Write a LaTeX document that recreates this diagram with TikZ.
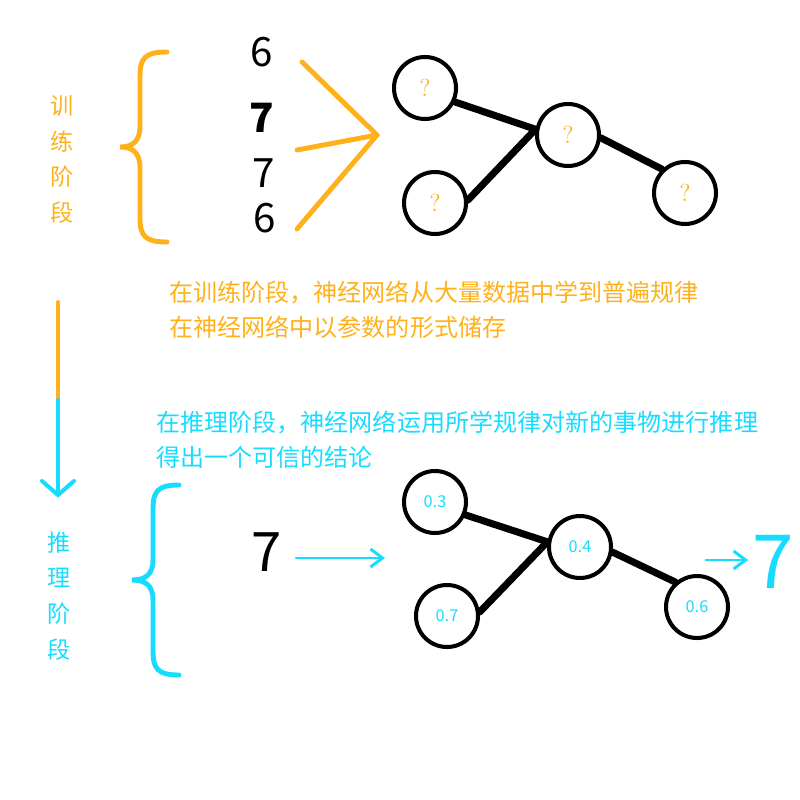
\documentclass[tikz,border=0pt]{standalone}
\usepackage{fontspec}
\newfontfamily\cjk{Noto Sans CJK SC}
\usetikzlibrary{arrows.meta,calc}
\definecolor{trainOrange}{HTML}{FFB11B}
\definecolor{inferCyan}{HTML}{18DCFF}

\begin{document}
\begin{tikzpicture}[
  x=0.02cm, y=-0.02cm,
  line cap=round,
  every node/.style={inner sep=0pt},
  neuron/.style={circle, draw=black, line width=2.3pt, minimum size=1.24cm},
  link/.style={black, line width=4pt},
  brace/.style={line width=2.8pt},
  feed/.style={trainOrange, line width=2.8pt},
  push/.style={inferCyan, line width=1.7pt, -{Straight Barb[length=0.24cm,width=0.36cm]}},
  note/.style={font=\cjk\fontsize{13.7}{19.8}\selectfont, anchor=west, align=left},
  stage/.style={font=\cjk\fontsize{13.2}{20.4}\selectfont, align=center},
  digit/.style={font=\cjk\fontsize{23}{23}\selectfont, black}
]
  \useasboundingbox (0,0) rectangle (800,800);

  % Training stage label and brace
  \node[stage, trainOrange] (trainlabel) at (62,159.5) {训\\练\\阶\\段};
  \draw[brace, trainOrange] (167,52) .. controls (145,52) and (140,58) .. (140,76)
    -- (140,126) .. controls (140,141) and (133,147) .. (120,147)
    .. controls (133,147) and (140,153) .. (140,168) -- (140,218)
    .. controls (140,236) and (145,242) .. (167,242);

  % Input digits
  \node[digit] (dig1) at (262,52) {6};
  \node[digit, font=\cjk\bfseries\fontsize{23}{23}\selectfont] (dig2) at (262,118) {7};
  \node[digit] (dig3) at (264,173) {7};
  \node[digit] (dig4) at (265,218) {6};

  % Digits fed into the network
  \coordinate (in1) at (302,62);
  \coordinate (in2) at (297,150);
  \coordinate (in3) at (297,229);
  \coordinate (merge) at (377,135);
  \draw[feed] (in1) -- (merge);
  \draw[feed] (in2) -- (merge);
  \draw[feed] (in3) -- (merge);

  % Untrained network
  \node[neuron] (t1) at (425,88) {};
  \node[neuron] (t2) at (568,135) {};
  \node[neuron] (t3) at (435,203) {};
  \node[neuron] (t4) at (685,193) {};
  \foreach \n in {t1,t2,t3,t4}
    \node[trainOrange, font=\fontsize{14}{14}\selectfont] at (\n) {?};
  \draw[link] (t1.-25) -- (t2.170);
  \draw[link] (t3.5) -- (t2.170);
  \draw[link] (t2.-5) -- (t4.134);

  % Notes
  \node[note, trainOrange] (trainnote) at (169,309.5)
    {在训练阶段，神经网络从大量数据中学到普遍规律\\在神经网络中以参数的形式储存};
  \node[note, inferCyan] (infernote) at (156,439.5)
    {在推理阶段，神经网络运用所学规律对新的事物进行推理\\得出一个可信的结论};

  % Stage arrow (orange fading into cyan)
  \draw[trainOrange, line width=2.3pt] (58,302) -- (58,402);
  \draw[inferCyan, line width=2.3pt] (58,400) -- (58,494);
  \draw[inferCyan, line width=2.3pt] (42,481) -- (58,495) -- (74,481);

  % Inference stage label and brace
  \node[stage, inferCyan] (inferlabel) at (59,596) {推\\理\\阶\\段};
  \draw[brace, inferCyan] (179,485) .. controls (158,485) and (153,491) .. (153,509)
    -- (153,560) .. controls (153,574) and (146,580) .. (132,580)
    .. controls (146,580) and (153,586) .. (153,600) -- (153,651)
    .. controls (153,669) and (158,675) .. (179,675);

  % New input
  \node[digit, font=\cjk\fontsize{31}{31}\selectfont] (query) at (267,552) {7};
  \coordinate (qa) at (296,558);
  \coordinate (qb) at (385,558);
  \draw[push] (qa) -- (qb);

  % Trained network
  \node[neuron] (b1) at (435,502) {};
  \node[neuron] (b2) at (580,547) {};
  \node[neuron] (b3) at (447,616) {};
  \node[neuron] (b4) at (697,607) {};
  \foreach \n/\w in {b1/0.3,b2/0.4,b3/0.7,b4/0.6}
    \node[inferCyan, font=\cjk\fontsize{9.3}{9.3}\selectfont] at (\n) {\w};
  \draw[link] (b1.-23) -- (b2.171);
  \draw[link] (b3.7) -- (b2.171);
  \draw[link] (b2.-9) -- (b4.131);

  % Result
  \coordinate (ra) at (706,560);
  \coordinate (rb) at (748,560);
  \draw[push] (ra) -- (rb);
  \node[inferCyan, font=\cjk\fontsize{42.5}{42.5}\selectfont] (answer) at (773,562) {7};
\end{tikzpicture}
\end{document}
